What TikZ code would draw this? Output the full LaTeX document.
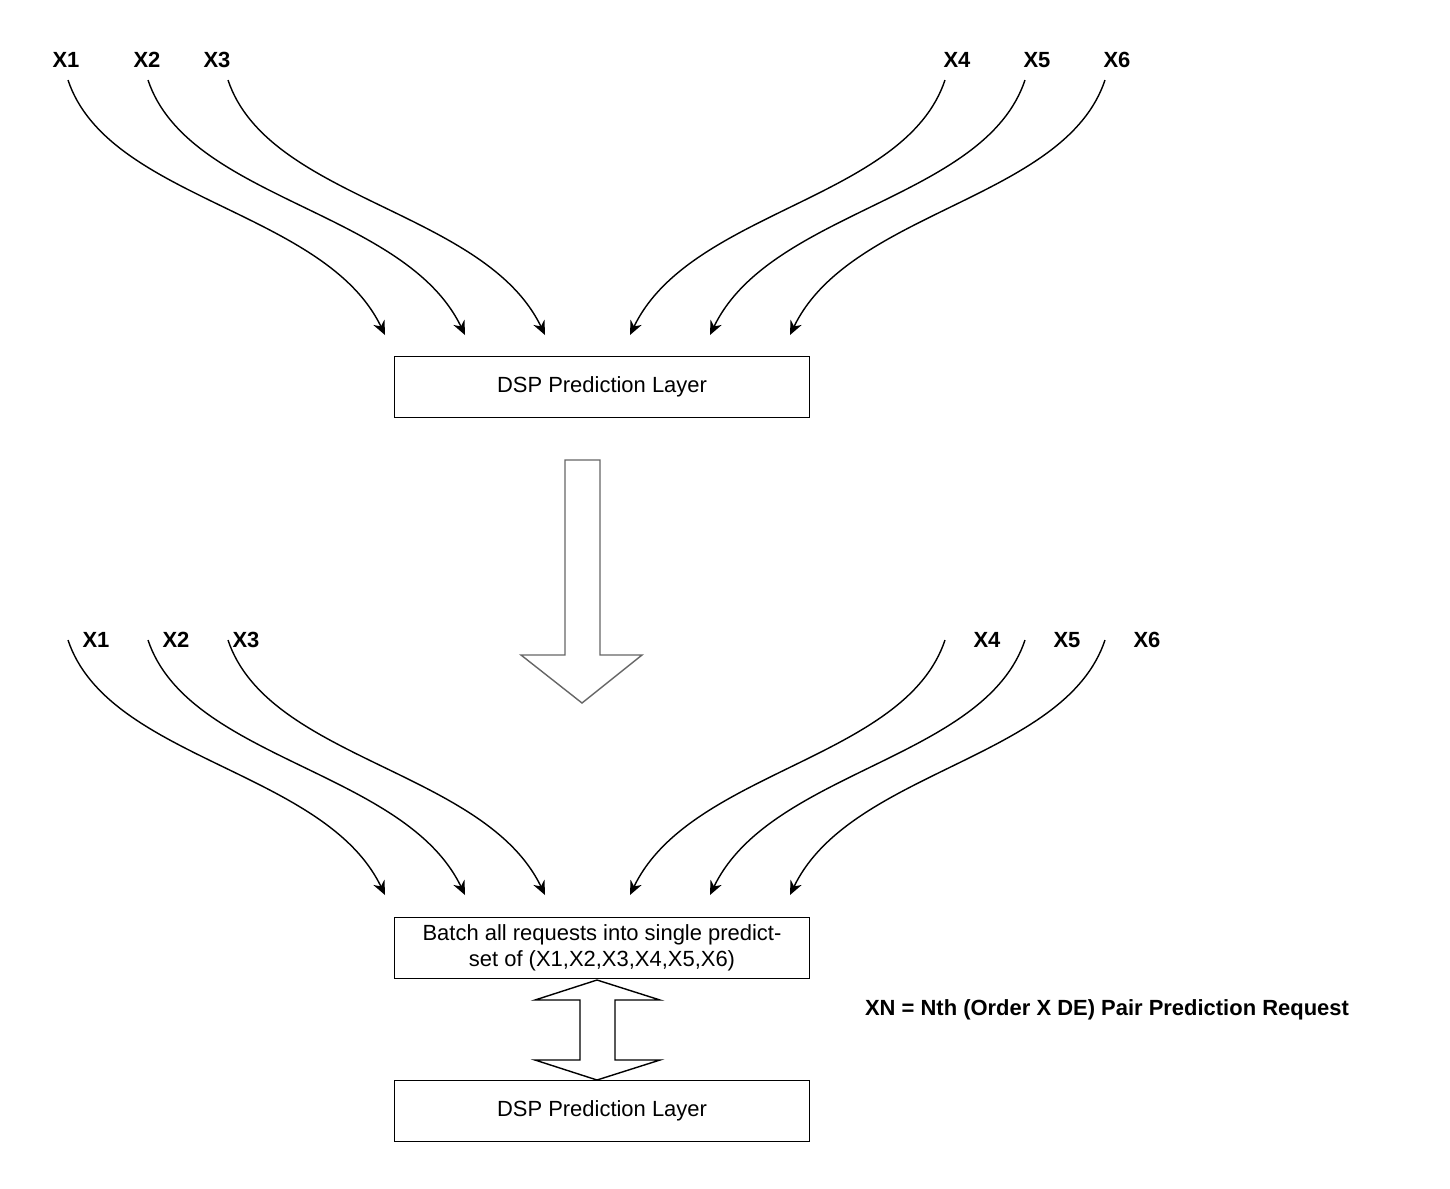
\documentclass[tikz,border=0pt]{standalone}
\usepackage{fontspec}
\setmainfont{Liberation Sans}
\usetikzlibrary{arrows.meta}
\tikzset{
  lbl/.style={font=\fontsize{12.5}{15}\selectfont\bfseries},
  box/.style={draw,thick,minimum width=8.3cm,minimum height=1.22cm,align=center,font=\fontsize{12.5}{15}\selectfont},
  feed/.style={thick,-{Stealth[length=8pt,width=7pt]}},
  fat/.style={draw=black!60,thick,fill=white}
}
\begin{document}
\begin{tikzpicture}[x=0.02cm,y=-0.02cm]
\useasboundingbox (0,0) rectangle (1450,1188);
% top row of requests
\foreach \n/\x in {1/66,2/147,3/217,4/957,5/1037,6/1117}
  \node[lbl] (t\n) at (\x,60) {X\n};
\foreach \n/\s/\e in {1/68/385,2/148/465,3/228/545}
  \draw[feed] (\s,80) .. controls (\s+40,200) and (\e-60,210) .. (\e,335);
\foreach \n/\s/\e in {4/945/630,5/1025/710,6/1105/790}
  \draw[feed] (\s,80) .. controls (\s-40,200) and (\e+60,210) .. (\e,335);
\node[box] (p1) at (602,387) {DSP Prediction Layer};
% big arrow
\draw[fat] (565,460) -- (600,460) -- (600,655) -- (642,655) -- (582,703) -- (521,655) -- (565,655) -- cycle;
% second row of requests
\foreach \n/\x in {1/96,2/176,3/246,4/987,5/1067,6/1147}
  \node[lbl] (b\n) at (\x,640) {X\n};
\foreach \n/\s/\e in {1/68/385,2/148/465,3/228/545}
  \draw[feed] (\s,640) .. controls (\s+40,760) and (\e-60,770) .. (\e,895);
\foreach \n/\s/\e in {4/945/630,5/1025/710,6/1105/790}
  \draw[feed] (\s,640) .. controls (\s-40,760) and (\e+60,770) .. (\e,895);
\node[box] (batch) at (602,948) {Batch all requests into single predict-\\set of (X1,X2,X3,X4,X5,X6)};
% double arrow
\draw[thick,fill=white] (597,980) -- (660,1000) -- (615,1000) -- (615,1060) -- (660,1060) -- (597,1080) -- (535,1060) -- (580,1060) -- (580,1000) -- (535,1000) -- cycle;
\node[box] (p2) at (602,1111) {DSP Prediction Layer};
\node[lbl] (note) at (1107,1010) {XN = Nth (Order X DE) Pair Prediction Request};
\end{tikzpicture}
\end{document}
